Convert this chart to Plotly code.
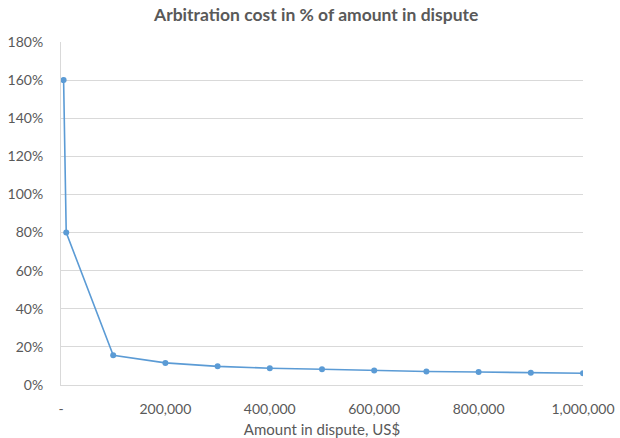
import plotly.graph_objects as go

# Amount in dispute (US$) and arbitration cost as a share of it
amounts = [5000, 10000, 100000, 200000, 300000, 400000, 500000,
           600000, 700000, 800000, 900000, 1000000]
cost_share = [1.60, 0.80, 0.156, 0.116, 0.098, 0.088, 0.083,
              0.076, 0.071, 0.068, 0.064, 0.062]

x_tickvals = [0, 200000, 400000, 600000, 800000, 1000000]
x_ticktext = ["-", "200,000", "400,000", "600,000", "800,000", "1,000,000"]
y_tickvals = [0, 0.2, 0.4, 0.6, 0.8, 1.0, 1.2, 1.4, 1.6, 1.8]

line_color = "#5B9BD5"
text_color = "#595959"
grid_color = "#D9D9D9"
font_family = "Lato, Carlito, Calibri, sans-serif"

fig = go.Figure(
    go.Scatter(
        x=amounts,
        y=cost_share,
        mode="lines+markers",
        line=dict(color=line_color, width=1.6),
        marker=dict(color=line_color, size=6),
        showlegend=False,
    )
)

fig.update_layout(
    width=620,
    height=438,
    paper_bgcolor="white",
    plot_bgcolor="white",
    margin=dict(l=61, r=37, t=42, b=53),
    font=dict(family=font_family, size=14, color=text_color),
    title=dict(
        text="<b>Arbitration cost in % of amount in dispute</b>",
        x=0.51,
        xanchor="center",
        y=0.966,
        yanchor="middle",
        font=dict(family=font_family, size=17.5, color=text_color),
    ),
)

fig.update_xaxes(
    range=[0, 1000000],
    tickvals=x_tickvals,
    ticktext=x_ticktext,
    showgrid=False,
    zeroline=False,
    showline=True,
    linecolor=grid_color,
    linewidth=1,
    ticks="",
    automargin=False,
    ticklabelstandoff=11,
    title=dict(text="Amount in dispute, US$", standoff=8,
               font=dict(family=font_family, size=15, color=text_color)),
)

fig.update_yaxes(
    range=[0, 1.8],
    tickvals=y_tickvals,
    tickformat=".0%",
    showgrid=True,
    gridcolor=grid_color,
    gridwidth=1,
    zeroline=False,
    showline=True,
    linecolor=grid_color,
    linewidth=1,
    ticks="",
    automargin=False,
    ticklabelstandoff=14,
)

fig.write_html("out.html")
